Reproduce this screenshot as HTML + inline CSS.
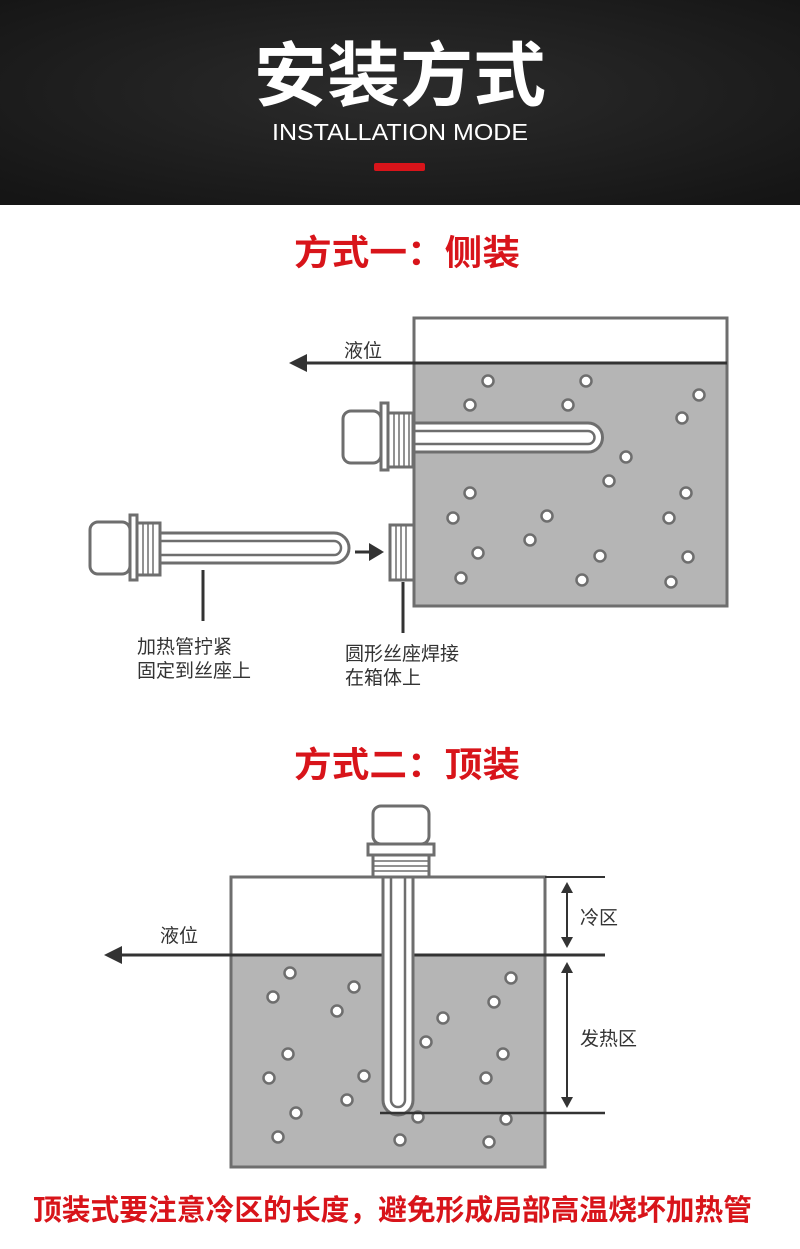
<!DOCTYPE html>
<html><head><meta charset="utf-8"><style>
html,body{margin:0;padding:0;background:#fff;}
svg{display:block;}
text{font-family:"Liberation Sans","Noto Sans CJK SC",sans-serif;}
</style></head><body>
<svg width="800" height="1249" viewBox="0 0 800 1249" xmlns="http://www.w3.org/2000/svg">
<defs>
<radialGradient id="hg" cx="0.5" cy="0.45" r="0.7">
<stop offset="0" stop-color="#2c2c2c"/><stop offset="1" stop-color="#151515"/>
</radialGradient>
</defs>
<rect x="0" y="0" width="800" height="205" fill="url(#hg)"/>
<text x="400" y="100" text-anchor="middle" fill="#fff" font-size="70" font-weight="bold" textLength="292" lengthAdjust="spacingAndGlyphs" style="font-family:'Noto Sans CJK SC',sans-serif">安装方式</text>
<text x="400" y="140" text-anchor="middle" fill="#fff" font-size="23" textLength="256" lengthAdjust="spacingAndGlyphs">INSTALLATION MODE</text>
<rect x="374" y="163" width="51" height="8" rx="2" fill="#d8141a"/>

<text x="407" y="265" text-anchor="middle" fill="#d8141a" font-size="35" font-weight="bold" textLength="226" lengthAdjust="spacingAndGlyphs" style="font-family:'Noto Sans CJK SC',sans-serif">方式一：侧装</text>

<!-- diagram 1 tank -->
<rect x="414" y="363" width="313" height="243" fill="#b5b5b5"/>
<rect x="414" y="318" width="313" height="288" fill="none" stroke="#6e6e6e" stroke-width="3"/>
<line x1="300" y1="363" x2="727" y2="363" stroke="#333" stroke-width="3"/>
<polygon points="289,363 307,354 307,372" fill="#333"/>
<text x="344" y="357" font-size="19" fill="#333">液位</text>
<g fill="#fff" stroke="#6e6e6e" stroke-width="2.5">
<circle cx="488" cy="381" r="5.5"/><circle cx="586" cy="381" r="5.5"/><circle cx="470" cy="405" r="5.5"/><circle cx="568" cy="405" r="5.5"/><circle cx="699" cy="395" r="5.5"/><circle cx="682" cy="418" r="5.5"/><circle cx="626" cy="457" r="5.5"/><circle cx="609" cy="481" r="5.5"/><circle cx="470" cy="493" r="5.5"/><circle cx="686" cy="493" r="5.5"/><circle cx="547" cy="516" r="5.5"/><circle cx="453" cy="518" r="5.5"/><circle cx="669" cy="518" r="5.5"/><circle cx="530" cy="540" r="5.5"/><circle cx="478" cy="553" r="5.5"/><circle cx="600" cy="556" r="5.5"/><circle cx="688" cy="557" r="5.5"/><circle cx="461" cy="578" r="5.5"/><circle cx="582" cy="580" r="5.5"/><circle cx="671" cy="582" r="5.5"/>
</g>
<!-- installed heater -->
<g stroke="#6e6e6e" stroke-width="3" fill="#fff">
<path d="M414,423 H588 A14.5,14.5 0 0 1 588,452 H414 Z"/>
<path d="M414,431 H588 A6.5,6.5 0 0 1 588,444 H414" fill="none" stroke-width="2.5"/>
<rect x="343" y="411" width="38" height="52" rx="8"/>
<rect x="381" y="403" width="7" height="67"/>
<rect x="388" y="413" width="25" height="54"/>
<g stroke-width="1.5"><line x1="394" y1="413" x2="394" y2="467"/><line x1="399" y1="413" x2="399" y2="467"/><line x1="404" y1="413" x2="404" y2="467"/><line x1="409" y1="413" x2="409" y2="467"/></g>
</g>
<!-- loose heater -->
<g stroke="#6e6e6e" stroke-width="3" fill="#fff">
<path d="M160,533 H334 A15,15 0 0 1 334,563 H160 Z"/>
<path d="M160,541 H334 A7,7 0 0 1 334,555 H160" fill="none" stroke-width="2.5"/>
<rect x="90" y="522" width="40" height="52" rx="8"/>
<rect x="130" y="515" width="7" height="65"/>
<rect x="137" y="523" width="23" height="52"/>
<g stroke-width="1.5"><line x1="143" y1="523" x2="143" y2="575"/><line x1="148" y1="523" x2="148" y2="575"/><line x1="153" y1="523" x2="153" y2="575"/></g>
<rect x="390" y="525" width="24" height="55"/>
<g stroke-width="1.5"><line x1="396" y1="525" x2="396" y2="580"/><line x1="401" y1="525" x2="401" y2="580"/><line x1="406" y1="525" x2="406" y2="580"/></g>
</g>
<line x1="355" y1="552" x2="372" y2="552" stroke="#333" stroke-width="3"/>
<polygon points="384,552 369,543 369,561" fill="#333"/>
<line x1="203" y1="570" x2="203" y2="621" stroke="#333" stroke-width="3"/>
<line x1="403" y1="582" x2="403" y2="633" stroke="#333" stroke-width="3"/>
<g font-size="19" fill="#333">
<text x="137" y="653">加热管拧紧</text>
<text x="137" y="677">固定到丝座上</text>
<text x="345" y="660">圆形丝座焊接</text>
<text x="345" y="684">在箱体上</text>
</g>

<text x="407" y="777" text-anchor="middle" fill="#d8141a" font-size="35" font-weight="bold" textLength="226" lengthAdjust="spacingAndGlyphs" style="font-family:'Noto Sans CJK SC',sans-serif">方式二：顶装</text>

<!-- diagram 2 -->
<rect x="231" y="955" width="314" height="212" fill="#b5b5b5"/>
<rect x="231" y="877" width="314" height="290" fill="none" stroke="#6e6e6e" stroke-width="3"/>
<line x1="115" y1="955" x2="605" y2="955" stroke="#333" stroke-width="3"/>
<polygon points="104,955 122,946 122,964" fill="#333"/>
<text x="160" y="942" font-size="19" fill="#333">液位</text>
<line x1="545" y1="877" x2="605" y2="877" stroke="#333" stroke-width="2"/>
<g fill="#fff" stroke="#6e6e6e" stroke-width="2.5">
<circle cx="290" cy="973" r="5.5"/><circle cx="354" cy="987" r="5.5"/><circle cx="273" cy="997" r="5.5"/><circle cx="337" cy="1011" r="5.5"/><circle cx="511" cy="978" r="5.5"/><circle cx="494" cy="1002" r="5.5"/><circle cx="443" cy="1018" r="5.5"/><circle cx="426" cy="1042" r="5.5"/><circle cx="288" cy="1054" r="5.5"/><circle cx="503" cy="1054" r="5.5"/><circle cx="269" cy="1078" r="5.5"/><circle cx="364" cy="1076" r="5.5"/><circle cx="486" cy="1078" r="5.5"/><circle cx="347" cy="1100" r="5.5"/><circle cx="296" cy="1113" r="5.5"/><circle cx="418" cy="1117" r="5.5"/><circle cx="506" cy="1119" r="5.5"/><circle cx="278" cy="1137" r="5.5"/><circle cx="400" cy="1140" r="5.5"/><circle cx="489" cy="1142" r="5.5"/>
</g>
<g stroke="#6e6e6e" stroke-width="3" fill="#fff">
<path d="M383,877 V1100 A15,15 0 0 0 413,1100 V877 Z"/>
<path d="M391,877 V1100 A7,7 0 0 0 405,1100 V877" fill="none" stroke-width="2.5"/>
<rect x="373" y="806" width="56" height="38" rx="8"/>
<rect x="368" y="844" width="66" height="11"/>
<rect x="373" y="855" width="56" height="22"/>
<g stroke-width="1.5"><line x1="373" y1="861" x2="429" y2="861"/><line x1="373" y1="866" x2="429" y2="866"/><line x1="373" y1="871" x2="429" y2="871"/></g>
</g>
<line x1="380" y1="1113" x2="605" y2="1113" stroke="#333" stroke-width="2.5"/>
<line x1="567" y1="885" x2="567" y2="940" stroke="#333" stroke-width="2"/>
<polygon points="567,882 561,893 573,893" fill="#333"/>
<polygon points="567,948 561,937 573,937" fill="#333"/>
<line x1="567" y1="966" x2="567" y2="1100" stroke="#333" stroke-width="2"/>
<polygon points="567,962 561,973 573,973" fill="#333"/>
<polygon points="567,1108 561,1097 573,1097" fill="#333"/>
<text x="580" y="924" font-size="19" fill="#333">冷区</text>
<text x="580" y="1045" font-size="19" fill="#333">发热区</text>

<text x="33" y="1220" fill="#d8141a" font-size="29" font-weight="bold" textLength="719" lengthAdjust="spacingAndGlyphs" style="font-family:'Noto Sans CJK SC',sans-serif">顶装式要注意冷区的长度，避免形成局部高温烧坏加热管</text>
</svg>
</body></html>
